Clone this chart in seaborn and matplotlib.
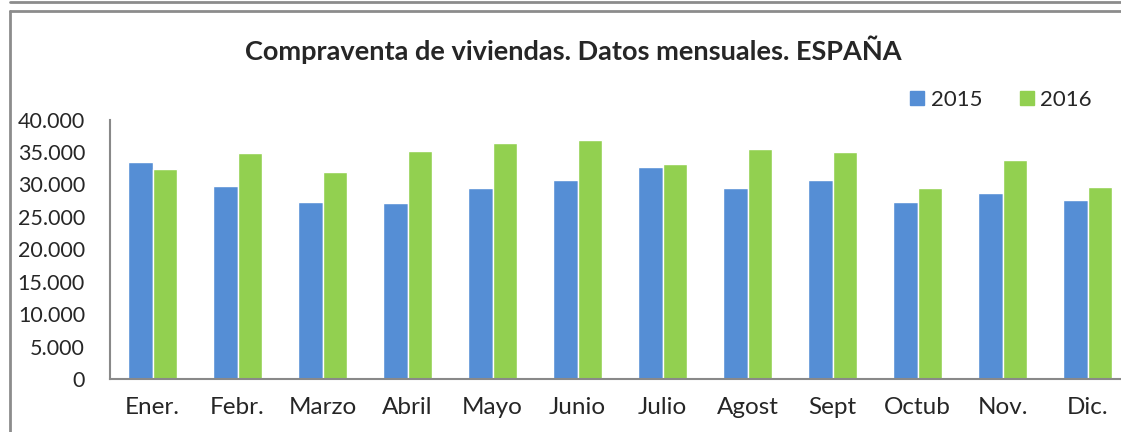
import pandas as pd
import seaborn as sns
import matplotlib.pyplot as plt
from matplotlib.lines import Line2D
from matplotlib.ticker import FuncFormatter

# Datos
meses = ['Ener.', 'Febr.', 'Marzo', 'Abril', 'Mayo', 'Junio',
         'Julio', 'Agost', 'Sept', 'Octub', 'Nov.', 'Dic.']
ventas_2015 = [33470, 29800, 27300, 27200, 29500, 30600,
               32700, 29400, 30700, 27300, 28700, 27600]
ventas_2016 = [32400, 34800, 31900, 35200, 36400, 36900,
               33100, 35500, 35000, 29400, 33800, 29600]
anios = ['2015', '2016']
colores = ['#558ED5', '#92D050']

df = pd.DataFrame({
    'mes': meses * 2,
    'valor': ventas_2015 + ventas_2016,
    'anio': [anios[0]] * 12 + [anios[1]] * 12,
})

sns.set_style('white')
plt.rcParams['font.family'] = ['Lato', 'DejaVu Sans']

W, H = 1121, 432
fig = plt.figure(figsize=(W / 100, H / 100), dpi=100)
# el eje sigue más allá del borde derecho (imagen recortada)
ax = fig.add_axes([110 / W, (H - 379) / H, 1020 / W, 259.5 / H])

sns.barplot(data=df, x='mes', y='valor', hue='anio', palette=colores,
            width=0.57, saturation=1, ax=ax, legend=False)

ax.set_ylim(0, 40000)
ax.set_xlim(-0.5, 11.5)
ax.set_yticks(range(0, 40001, 5000))
ax.yaxis.set_major_formatter(FuncFormatter(lambda v, p: f'{int(v):,}'.replace(',', '.')))
ax.set_xlabel('')
ax.set_ylabel('')
ax.tick_params(axis='y', labelsize=15.5, length=0, pad=18)
ax.tick_params(axis='x', labelsize=17.5, length=0, pad=13)
for s in ['top', 'right']:
    ax.spines[s].set_visible(False)
for s in ['left', 'bottom']:
    ax.spines[s].set_color('#898989')
    ax.spines[s].set_linewidth(1.5)

fig.text(573 / W, 1 - 50 / H, 'Compraventa de viviendas. Datos mensuales. ESPAÑA',
         ha='center', va='center', fontsize=19.5, fontweight='bold')

# leyenda
handles = [plt.Rectangle((0, 0), 1, 1, color=c) for c in colores]
fig.legend(handles, anios, loc='center', bbox_to_anchor=(1001 / W, 1 - 100 / H),
           ncol=2, frameon=False, fontsize=16, handlelength=0.63, handleheight=0.63,
           handletextpad=0.3, columnspacing=1.7)

# marco del gráfico
gris = '#8c8c8c'
fig.add_artist(Line2D([10 / W, 1], [1 - 2 / H, 1 - 2 / H], color=gris, lw=2))
fig.add_artist(Line2D([10 / W, 10 / W], [0, 1 - 11 / H], color=gris, lw=2))
fig.add_artist(Line2D([10 / W, 1], [1 - 11 / H, 1 - 11 / H], color=gris, lw=2))

fig.savefig('out.png', dpi=100)
